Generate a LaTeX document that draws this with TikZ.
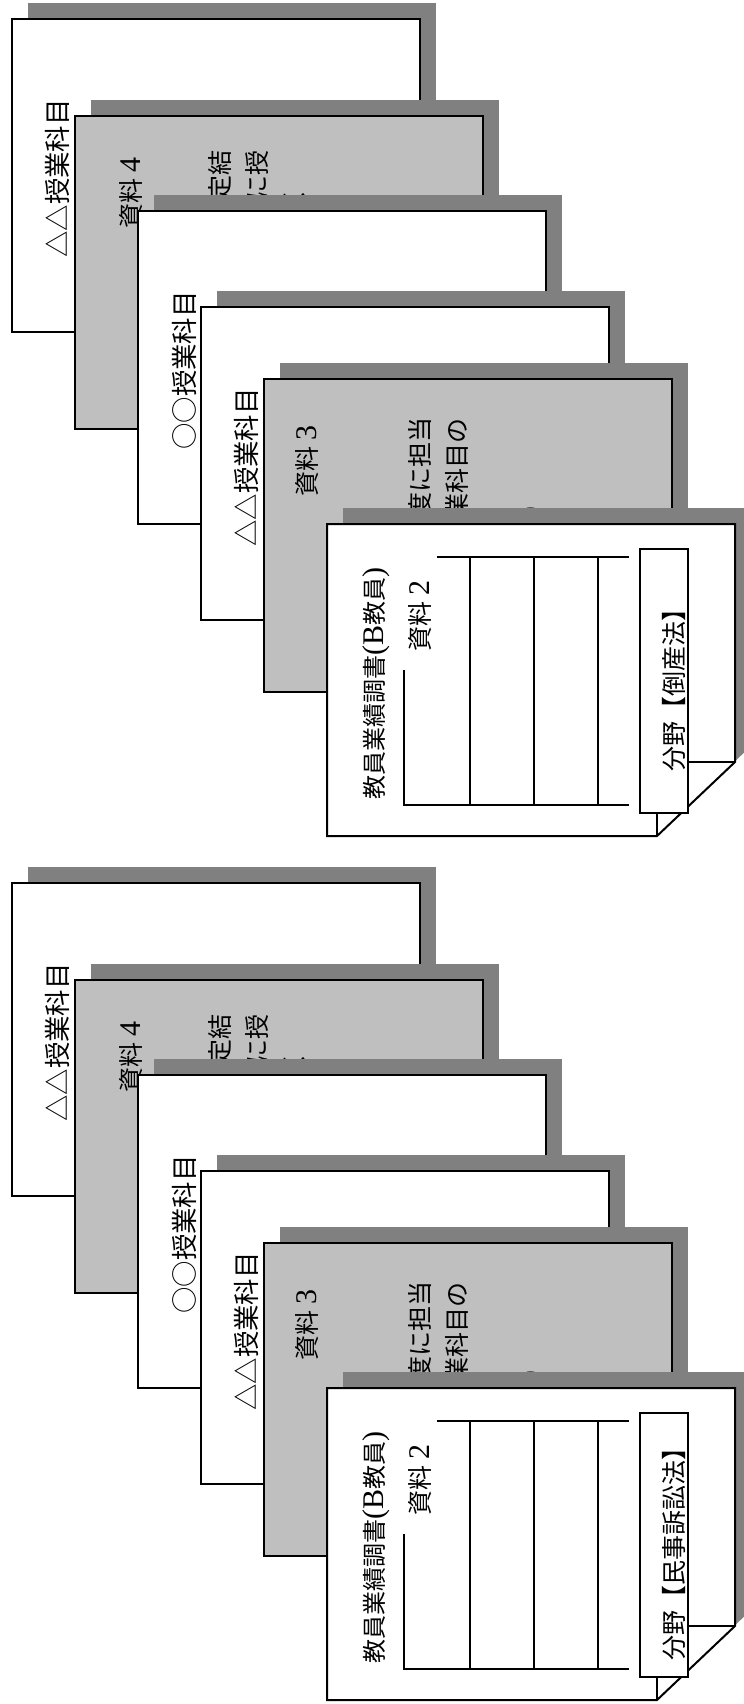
\documentclass[tikz,border=0pt]{standalone}
\usepackage{fontspec}
\setmainfont{Liberation Serif}
\newfontfamily\jpfont{Noto Sans CJK JP}
\newcommand{\latn}[1]{{\rmfamily\fontsize{15}{15}\selectfont #1}}

\tikzset{
  papershadow/.style={fill=black!50},
  paperwhite/.style={draw=black, fill=white, line width=1pt},
  papergray/.style={draw=black, fill=black!25, line width=1pt},
  uptext/.style={rotate=90, inner sep=0pt, text height=11pt, text depth=1.5pt,
    font=\jpfont\fontsize{12.5}{15}\selectfont},
  subjtext/.style={uptext, font=\jpfont\fontsize{13.2}{15}\selectfont},
  tableline/.style={line width=1pt},
}

\begin{document}
\begin{tikzpicture}[x=0.5pt, y=-0.5pt]
\useasboundingbox (0,0) rectangle (744,1704);

\foreach \sy/\field/\k in {0/倒産法/a, 864/民事訴訟法/b}{
\begin{scope}[shift={(0,\sy)}]

%%%%%% page 1 : subject △△ %%%
\begin{scope}[shift={(12,19)}]
\fill[papershadow] (16,-16) rectangle (424,297);
\draw[paperwhite] (0,0) rectangle (408,313);
\node[subjtext, anchor=west] (subjA-\k) at (46,239) {△△授業科目};
\end{scope}

%%%%%% page 2 : document 4 %%%
\begin{scope}[shift={(75,116)}]
\fill[papershadow] (16,-16) rectangle (424,297);
\draw[papergray] (0,0) rectangle (408,313);
\node[uptext, anchor=west] (docD-\k) at (56,113) {資料\hspace{3pt}\latn{4}};
\node[uptext, anchor=east] (docDa-\k) at (145,34) {定結};
\node[uptext, anchor=east] (docDb-\k) at (182,34) {に授};
\node[uptext, anchor=east] (docDc-\k) at (219,70) {く};
\end{scope}

%%%%%% page 3 : subject ○○ %%%
\begin{scope}[shift={(138,211)}]
\fill[papershadow] (16,-16) rectangle (424,297);
\draw[paperwhite] (0,0) rectangle (408,313);
\node[subjtext, anchor=west] (subjB-\k) at (47,239) {○○授業科目};
\end{scope}

%%%%%% page 4 : subject △△ %%%
\begin{scope}[shift={(201,307)}]
\fill[papershadow] (16,-16) rectangle (424,297);
\draw[paperwhite] (0,0) rectangle (408,313);
\node[subjtext, anchor=west] (subjC-\k) at (46,240) {△△授業科目};
\end{scope}

%%%%%% page 5 : document 3 %%%
\begin{scope}[shift={(264,379)}]
\fill[papershadow] (16,-16) rectangle (424,297);
\draw[papergray] (0,0) rectangle (408,313);
\node[uptext, anchor=west] (docC-\k) at (43,118) {資料\hspace{3pt}\latn{3}};
\node[uptext, anchor=east] (docCa-\k) at (156,38) {度に担当};
\node[uptext, anchor=east] (docCb-\k) at (193,39) {業科目の};
\node[uptext, anchor=east] (docCc-\k) at (267,111) {）};
\end{scope}

%%%%%% page 6 : report, folded corner %%%
\begin{scope}[shift={(327,524)}]
\fill[papershadow] (16,-16) -- (424,-16) -- (424,222) -- (346,296) -- (16,296) -- cycle;
\draw[paperwhite] (0,0) -- (408,0) -- (408,238) -- (330,312) -- (0,312) -- cycle;
\draw[line width=1pt] (330,312) -- (330,238) -- (408,238);

% table
{
\draw[tableline] (110,33) -- (302,33);
\draw[tableline] (77,146) -- (77,281) -- (302,281);
\foreach \tx in {143,207,271}
  \draw[tableline] (\tx,33) -- (\tx,281);
}

% labeling
{
\node[uptext, anchor=west, font=\jpfont\fontsize{12}{15}\selectfont] (report-\k) at (47,276)
  {教員業績調書\latn{(B}教員\latn{)}};
\node[uptext, anchor=west] (docB-\k) at (93,128) {資料\hspace{3pt}\latn{2}};
\draw[fill=white, line width=0.8pt] (313,25) rectangle (361,289);
\node[uptext] (field-\k) at (347,160) {分野【\field】};
}
\end{scope}

\end{scope}
}
\end{tikzpicture}
\end{document}
